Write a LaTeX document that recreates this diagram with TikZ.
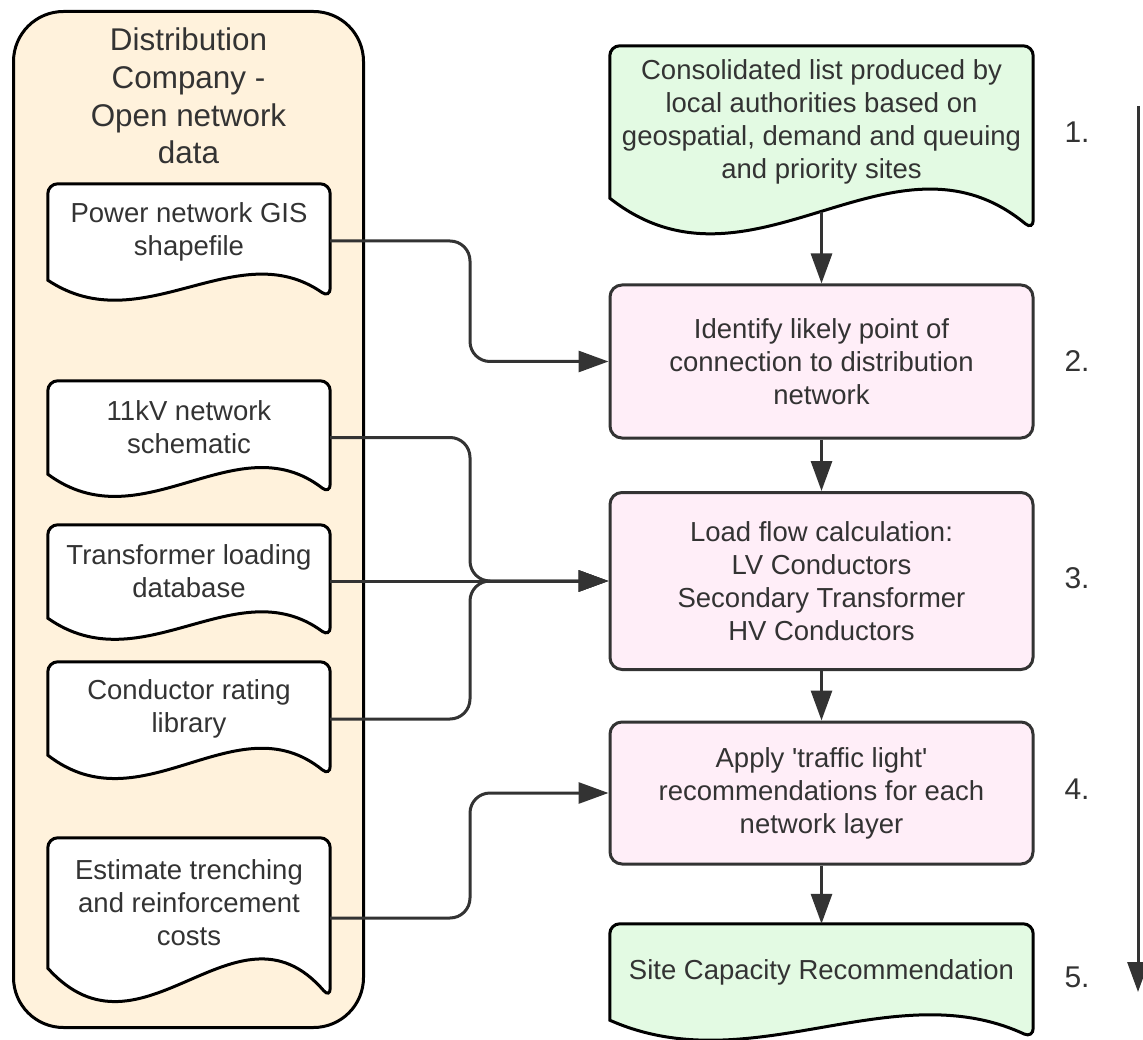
\documentclass[tikz,border=0pt]{standalone}
\usepackage{fontspec}
\setmainfont{Liberation Sans}
\usetikzlibrary{arrows.meta,calc,backgrounds,positioning}

\definecolor{ink}{HTML}{333333}
\definecolor{cream}{HTML}{FFF2DC}
\definecolor{mint}{HTML}{E3FAE3}
\definecolor{blush}{HTML}{FFEEF8}

\begin{document}
\begin{tikzpicture}[x=1pt, y=-1pt, color=ink,
  wire/.style={line width=3pt},
  txt/.style={align=center, font=\fontsize{27.5}{33}\selectfont},
  doc/.style={txt, minimum width=282pt, inner sep=0pt},
  flowbox/.style={txt, wire, draw, fill=blush, rounded corners=12pt, minimum width=423pt, inner sep=0pt},
  stepno/.style={font=\fontsize{30}{36}\selectfont},
  arr/.style={wire, -{Triangle[length=30pt,width=21pt]}, rounded corners=20pt}]
  \useasboundingbox (0,0) rectangle (1143,1040);

  % open network data
  \node[font=\fontsize{31.4}{37.7}\selectfont, align=center] (dcotitle) at (188.5,96) {Distribution\\Company -\\Open network\\data};
  \node[doc, minimum height=96pt] (gis) at (189,232) {Power network GIS\\shapefile};
  \node[doc, minimum height=93pt] (sch) at (189,427.5) {11kV network\\schematic};
  \node[doc, minimum height=93pt] (trf) at (189,571.5) {Transformer loading\\database};
  \node[doc, minimum height=93pt] (cond) at (189,708.5) {Conductor rating\\library};
  \node[doc, minimum height=130pt] (cost) at (189,903) {Estimate trenching\\and reinforcement\\costs};

  % process steps
  \node[doc, minimum width=423pt, minimum height=152pt] (list) at (821.5,122) {Consolidated list produced by\\local authorities based on\\geospatial, demand and queuing\\and priority sites};
  \node[flowbox, minimum height=153pt] (poc) at (821.5,361.5) {Identify likely point of\\connection to distribution\\network};
  \node[flowbox, minimum height=177pt] (lf) at (821.5,581) {Load flow calculation:\\LV Conductors\\Secondary Transformer\\HV Conductors};
  \node[flowbox, minimum height=142pt] (tl) at (821.5,793) {Apply \textquotesingle traffic light\textquotesingle\\recommendations for each\\network layer};
  \node[doc, minimum width=423pt, minimum height=96pt] (site) at (821.5,972) {Site Capacity Recommendation};

  \node[stepno] (n1) at (1077,132) {1.};
  \node[stepno] (n2) at (1077,361) {2.};
  \node[stepno] (n3) at (1077,578) {3.};
  \node[stepno] (n4) at (1077,789) {4.};
  \node[stepno] (n5) at (1077,977) {5.};

  \begin{pgfonlayer}{background}
    \node[wire, draw, fill=cream, rounded corners=50pt, minimum width=350pt, minimum height=1016pt] (dco) at (188.5,519.5) {};
    \foreach \n/\a/\c in {gis/18/white, sch/20/white, trf/19/white, cond/21/white, cost/30/white, list/32/mint, site/18/mint}
      \draw[wire, fill=\c] (\n.south west) [rounded corners=10pt] -- (\n.north west) -- (\n.north east) -- ($(\n.south east)+(0,\a)$) [sharp corners]
        .. controls ($(\n.south west)!2/3!(\n.south east)+(0,-2.63*\a)$) and ($(\n.south west)!1/3!(\n.south east)+(0,3.48*\a)$) .. (\n.south west) -- cycle;
  \end{pgfonlayer}

  % connectors
  \coordinate (bus) at (470,0);
  \foreach \n/\a in {gis/18, sch/20, trf/19, cond/21, cost/30}
    \coordinate (out\n) at ($(\n.east)+(0,\a/2)$);
  \draw[arr] (outgis) -- (outgis -| bus) |- (poc.west);
  \draw[arr] (outsch) -- (outsch -| bus) |- (lf.west);
  \draw[arr] (outtrf) -- (lf.west);
  \draw[arr] (outcond) -- (outcond -| bus) |- (lf.west);
  \draw[arr] (outcost) -- (outcost -| bus) |- (tl.west);

  \draw[arr] ([yshift=-14pt]list.south) -- (poc.north);
  \draw[arr] (poc.south) -- (lf.north);
  \draw[arr] (lf.south) -- (tl.north);
  \draw[arr] (tl.south) -- (site.north);

  \coordinate (flowtop) at (1138,106);
  \coordinate (flowend) at (1138,992);
  \draw[arr] (flowtop) -- (flowend);
\end{tikzpicture}
\end{document}
